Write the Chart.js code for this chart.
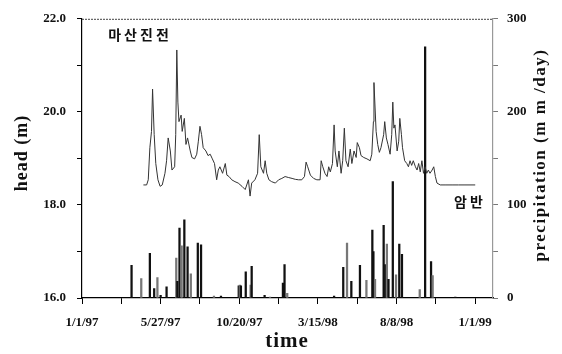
<!DOCTYPE html>
<html>
<head>
<meta charset="utf-8">
<script src="https://cdn.jsdelivr.net/npm/chart.js@4.4.1/dist/chart.umd.min.js"></script>
<style>
  html, body { margin: 0; padding: 0; background: #fff; }
  canvas { display: block; }
</style>
</head>
<body>
<canvas id="chart" width="562" height="354"></canvas>
<script>
// days counted from 1 Jan 1997
const tickLabels = ['1/1/97', '5/27/97', '10/20/97', '3/15/98', '8/8/98', '1/1/99'];

// groundwater head (m)
const headDays = [114,120,123,126,129,131,134,137,141,145,149,154,157,160,164,167,172,174,176,178,180,184,186,190,193,196,201,204,209,213,216,219,222,225,230,234,238,242,246,250,253,256,261,266,269,273,278,284,290,297,303,309,312,315,321,326,329,332,337,340,343,347,352,359,365,371,377,383,390,396,402,408,413,416,419,424,430,436,442,444,447,451,455,458,461,465,468,470,474,477,481,484,487,490,494,498,501,505,509,511,515,518,523,529,535,538,541,542,546,549,552,555,560,562,565,568,572,575,577,579,581,585,588,590,593,595,599,603,606,609,612,615,619,622,625,628,631,634,637,640,643,646,650,653,656,659,665,674,687,699,711,730];
const headValues = [18.43,18.43,18.54,19.23,19.58,20.49,19.51,18.89,18.54,18.40,18.43,18.68,18.95,19.44,19.16,18.75,18.82,19.51,21.33,20.21,19.79,19.93,19.58,19.86,19.30,19.44,19.16,19.02,18.99,19.09,19.37,19.69,19.51,19.23,19.16,19.06,19.09,18.99,18.89,18.54,18.75,18.82,18.68,18.89,18.64,18.61,18.54,18.50,18.47,18.40,18.33,18.54,18.19,18.47,18.54,18.68,19.51,18.82,18.68,18.95,18.68,18.54,18.50,18.47,18.54,18.57,18.61,18.59,18.57,18.55,18.54,18.54,18.61,18.92,18.82,18.64,18.57,18.54,18.54,18.95,18.82,18.68,18.61,18.82,18.71,18.89,19.72,19.16,18.82,19.16,18.68,18.95,19.65,18.95,18.82,19.20,18.89,19.16,19.02,19.34,19.23,19.06,19.02,18.99,18.95,19.09,19.79,20.63,19.58,19.30,19.13,19.23,19.51,19.79,19.44,19.30,19.09,19.51,20.21,19.65,19.72,19.16,19.37,19.86,19.51,19.23,18.95,18.89,18.82,18.95,18.85,18.95,18.82,18.75,18.89,18.71,18.95,18.68,18.82,18.68,18.75,18.68,18.75,18.82,18.61,18.47,18.43,18.43,18.43,18.43,18.43,18.43];

// precipitation (mm/day)
const rainDays = [92,110,126,134,140,146,157,175,177,181,185,190,196,202,215,221,245,258,291,293,295,304,313,315,339,349,373,376,381,468,485,492,500,516,528,539,541,544,560,563,566,569,577,583,589,594,627,637,648,651,693];
const rainValues = [35,21,48,10,22,3,12,43,18,75,56,84,55,26,59,57,2,2,13,14,13,28,14,34,3,1,16,36,5,2,33,59,18,35,19,73,50,20,78,36,58,20,125,25,58,47,9,270,39,24,1];

const serif = "'Liberation Serif', 'DejaVu Serif', serif";
const tickFont = { family: serif, size: 13, weight: 'bold' };

// titles, labels and the dotted top frame
const extras = {
    id: 'extras',
    afterDraw(chart) {
        const ctx = chart.ctx;
        const a = chart.chartArea;
        ctx.save();

        // dotted top border
        ctx.strokeStyle = '#444';
        ctx.lineWidth = 1;
        ctx.setLineDash([2, 1]);
        ctx.beginPath();
        ctx.moveTo(a.left, a.top + 0.5);
        ctx.lineTo(a.right, a.top + 0.5);
        ctx.stroke();
        ctx.setLineDash([]);

        ctx.fillStyle = '#111';
        ctx.textAlign = 'center';
        ctx.textBaseline = 'middle';

        // left title
        ctx.save();
        ctx.translate(22, 153);
        ctx.rotate(-Math.PI / 2);
        ctx.font = 'bold 18px ' + serif;
        ctx.letterSpacing = '1px';
        ctx.fillText('head (m)', 0, 0);
        ctx.restore();

        // right title (reads bottom to top)
        ctx.save();
        ctx.translate(541, 155);
        ctx.rotate(-Math.PI / 2);
        ctx.font = 'bold 17px ' + serif;
        ctx.letterSpacing = '1.5px';
        ctx.fillText('precipitation (m m /day)', 0, 0);
        ctx.restore();

        // bottom title
        ctx.font = 'bold 21px ' + serif;
        ctx.letterSpacing = '1px';
        ctx.fillText('time', 287, 342);

        // well names
        ctx.font = "bold 14px 'Noto Sans CJK KR'";
        ctx.letterSpacing = '3px';
        ctx.fillText('마산진전', 140, 35);
        ctx.fillText('암반', 470, 202);

        ctx.restore();
    }
};

const ctx = document.getElementById('chart').getContext('2d');
new Chart(ctx, {
    type: 'bar',
    data: {
        datasets: [
            {
                type: 'line',
                label: 'head',
                data: headDays.map((d, i) => ({ x: d, y: headValues[i] })),
                yAxisID: 'y',
                borderColor: '#333',
                borderWidth: 1,
                pointRadius: 0,
                tension: 0,
                fill: false
            },
            {
                label: 'precipitation',
                data: rainDays.map((d, i) => ({ x: d, y: rainValues[i] })),
                yAxisID: 'y2',
                backgroundColor: (c) => c.dataIndex % 3 === 1 ? '#777' : '#111',
                barThickness: 1.6,
                borderWidth: 0
            }
        ]
    },
    options: {
        responsive: false,
        animation: false,
        layout: { padding: { top: 11, left: 0, right: 0, bottom: 0 } },
        plugins: {
            legend: { display: false },
            tooltip: { enabled: false }
        },
        scales: {
            x: {
                type: 'linear',
                min: 0,
                max: 763,
                offset: false,
                afterFit: (s) => { s.height = 56; },
                border: { display: true, color: '#000', width: 1.2 },
                grid: { drawOnChartArea: false, drawTicks: true, tickLength: 6, color: '#000', offset: false },
                ticks: {
                    stepSize: 73,
                    includeBounds: false,
                    autoSkip: false,
                    maxRotation: 0,
                    padding: 11,
                    color: '#111',
                    font: tickFont,
                    callback: (v) => v % 146 === 0 ? tickLabels[v / 146] : ''
                }
            },
            y: {
                position: 'left',
                min: 16,
                max: 22,
                afterFit: (s) => { s.width = 82; },
                border: { display: true, color: '#000', width: 1.2 },
                grid: { drawOnChartArea: false, drawTicks: true, tickLength: 5, color: '#000' },
                ticks: {
                    stepSize: 1,
                    padding: 11,
                    color: '#111',
                    font: tickFont,
                    callback: (v) => v % 2 === 0 ? v.toFixed(1) : ''
                }
            },
            y2: {
                position: 'right',
                min: 0,
                max: 300,
                afterFit: (s) => { s.width = 69; },
                border: { display: true, color: '#999', width: 1.2 },
                grid: { drawOnChartArea: false, drawTicks: true, tickLength: 5, color: '#777' },
                ticks: {
                    stepSize: 50,
                    padding: 9,
                    color: '#111',
                    font: tickFont,
                    callback: (v) => v % 100 === 0 ? String(v) : ''
                }
            }
        }
    },
    plugins: [extras]
});
</script>
</body>
</html>
